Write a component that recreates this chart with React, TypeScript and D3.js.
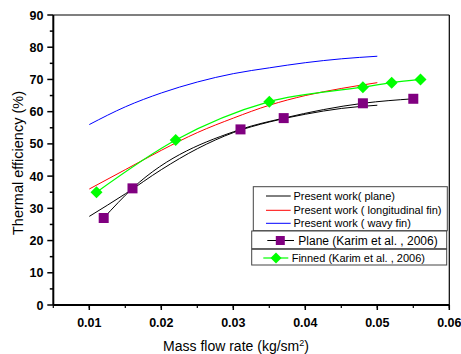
import React from "react";
import * as d3 from "d3";

const presentX = [0.01, 0.015, 0.02, 0.025, 0.03, 0.035, 0.04, 0.045, 0.05];
const presentPlane = [27.5, 34.5, 42, 48.5, 53.5, 56.8, 59.2, 61, 62];
const presentLongFin = [36, 42, 48, 53.5, 58, 62, 65, 67.2, 69];
const presentWavyFin = [56, 61.5, 65.8, 69.2, 71.8, 73.6, 75.2, 76.4, 77.2];

const karimPlaneX = [0.012, 0.016, 0.031, 0.037, 0.048, 0.055];
const karimPlaneY = [27, 36.2, 54.5, 58, 62.6, 64];
const karimFinnedX = [0.011, 0.022, 0.035, 0.048, 0.052, 0.056];
const karimFinnedY = [35, 51.2, 63.1, 67.6, 69, 70];

const xTicks = [0.01, 0.02, 0.03, 0.04, 0.05, 0.06];
const yTicks = [0, 10, 20, 30, 40, 50, 60, 70, 80, 90];

const FONT = "'Liberation Sans', Arial, sans-serif";

export default function App() {
  const left = 53.3, right = 449.3, top = 15, bottom = 305;
  const x = d3.scaleLinear().domain([0.005, 0.06]).range([left, right]);
  const y = d3.scaleLinear().domain([0, 90]).range([bottom, top]);

  const mk = (xs: number[], ys: number[]) =>
    d3
      .line<number>()
      .x((_, i) => x(xs[i]))
      .y((v) => y(v))
      .curve(d3.curveMonotoneX)(ys) || "";

  const xMinor = d3.range(0.005, 0.0601, 0.005);
  const yMinor = d3.range(5, 90, 10);

  const diamond = (cx: number, cy: number, r = 6) =>
    `M${cx},${cy - r}L${cx + r},${cy}L${cx},${cy + r}L${cx - r},${cy}Z`;

  return (
    <svg width={461} height={354} style={{ position: "absolute", left: 0, top: 0 }}>
      <rect width={461} height={354} fill="#fff" />
      {/* frame */}
      <line x1={left} x2={right} y1={top} y2={top} stroke="#555" strokeWidth={1.5} />
      <line x1={right} x2={right} y1={top} y2={bottom} stroke="#000" strokeWidth={1.2} />
      <line x1={left} x2={right} y1={bottom} y2={bottom} stroke="#000" strokeWidth={2} />
      <line x1={left} x2={left} y1={top} y2={bottom} stroke="#000" strokeWidth={2} />

      {/* y ticks */}
      {yTicks.map((t) => (
        <g key={"y" + t}>
          <line x1={left - 6} x2={left} y1={y(t)} y2={y(t)} stroke="#000" strokeWidth={1.5} />
          <text x={43.5} y={y(t)} dy="0.36em" textAnchor="end" fontFamily={FONT} fontWeight="bold" fontSize={12.5}>
            {t}
          </text>
        </g>
      ))}
      {yMinor.map((t) => (
        <line key={"ym" + t} x1={left - 3.5} x2={left} y1={y(t)} y2={y(t)} stroke="#000" strokeWidth={1.5} />
      ))}
      {/* x ticks */}
      {xTicks.map((t) => (
        <g key={"x" + t}>
          <line x1={x(t)} x2={x(t)} y1={bottom} y2={bottom + 5} stroke="#000" strokeWidth={1.5} />
          <text x={x(t)} y={322} dy="0.36em" textAnchor="middle" fontFamily={FONT} fontWeight="bold" fontSize={12.5}>
            {t.toFixed(2)}
          </text>
        </g>
      ))}
      {xMinor.map((t, i) => (
        <line key={"xm" + i} x1={x(t)} x2={x(t)} y1={bottom} y2={bottom + 3} stroke="#000" strokeWidth={1.2} />
      ))}

      {/* axis titles */}
      <text x={236} y={351} textAnchor="middle" fontFamily={FONT} fontSize={14}>
        Mass flow rate (kg/sm
        <tspan dy={-5} fontSize={9}>2</tspan>
        <tspan dy={5}>)</tspan>
      </text>
      <text
        transform="translate(23,163) rotate(-90)"
        textAnchor="middle"
        fontFamily={FONT}
        fontSize={14.5}
      >
        Thermal efficiency (%)
      </text>

      {/* present work lines */}
      <path d={mk(presentX, presentWavyFin)} fill="none" stroke="#0000ff" strokeWidth={1} />
      <path d={mk(presentX, presentLongFin)} fill="none" stroke="#ff0000" strokeWidth={1} />
      <path d={mk(presentX, presentPlane)} fill="none" stroke="#000" strokeWidth={1} />

      {/* Karim lines */}
      <path d={mk(karimPlaneX, karimPlaneY)} fill="none" stroke="#000" strokeWidth={1} />
      <path d={mk(karimFinnedX, karimFinnedY)} fill="none" stroke="#00ff00" strokeWidth={1.2} />
      {karimPlaneX.map((v, i) => (
        <rect key={"pp" + i} x={x(v) - 5} y={y(karimPlaneY[i]) - 5} width={10} height={10} fill="#800080" />
      ))}
      {karimFinnedX.map((v, i) => (
        <path key={"fp" + i} d={diamond(x(v), y(karimFinnedY[i]))} fill="#00ff00" />
      ))}

      {/* legends */}
      <rect x={253.3} y={186.7} width={194} height={44} fill="#fff" stroke="#444" strokeWidth={1} />
      {[
        { c: "#000", t: "Present work( plane)", yy: 196 },
        { c: "#ff0000", t: "Present work ( longitudinal fin)", yy: 210.3 },
        { c: "#0000ff", t: "Present work ( wavy fin)", yy: 223.3 },
      ].map((d) => (
        <g key={d.t}>
          <line x1={266} x2={290.7} y1={d.yy} y2={d.yy} stroke={d.c} strokeWidth={1} />
          <text x={293.5} y={d.yy} dy="0.35em" fontFamily={FONT} fontSize={11}>
            {d.t}
          </text>
        </g>
      ))}
      <rect x={251.7} y={231} width={195} height={17.7} fill="#fff" stroke="#444" strokeWidth={1} />
      <line x1={267.3} x2={294} y1={240.5} y2={240.5} stroke="#000" strokeWidth={1} />
      <rect x={275.8} y={236} width={9} height={9} fill="#800080" />
      <text x={298.3} y={240.5} dy="0.35em" fontFamily={FONT} fontSize={12}>
        Plane (Karim et al. , 2006)
      </text>
      <rect x={251.7} y={249.3} width={195} height={15.7} fill="#fff" stroke="#444" strokeWidth={1} />
      <line x1={263.3} x2={288.3} y1={258} y2={258} stroke="#00ff00" strokeWidth={1.2} />
      <path d={diamond(276, 258, 5.5)} fill="#00ff00" />
      <text x={291.7} y={258} dy="0.35em" fontFamily={FONT} fontSize={11}>
        Finned (Karim et al. , 2006)
      </text>
    </svg>
  );
}
